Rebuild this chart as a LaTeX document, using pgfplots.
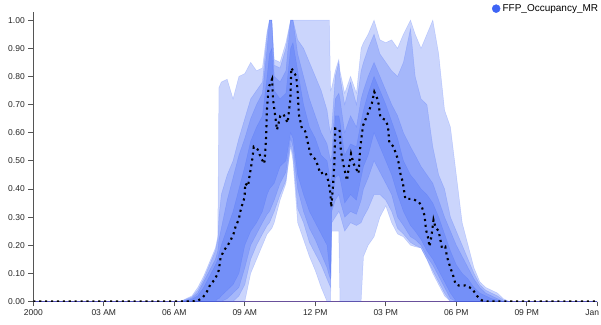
\documentclass[border=0pt]{standalone}
\usepackage{fontspec}
\setmainfont{Liberation Sans}
\usepackage{pgfplots}
\pgfplotsset{compat=1.18}
\usepackage{pgfplotstable}
\usepgfplotslibrary{fillbetween}
\definecolor{ffp}{RGB}{62,100,245}
\definecolor{axpurple}{RGB}{105,80,155}
\definecolor{axgray}{RGB}{85,85,85}
\pgfplotstableread{
t l1 l2 l3 l4 u4 u3 u2 u1
0.0 0 0 0 0 0 0 0 0
6.25 0 0 0 0 0 0 0 0
6.5 0 0 0 0 0.003 0.005 0.008 0.01
6.75 0 0 0 0 0.008 0.012 0.016 0.02
7.0 0 0 0 0 0.02 0.03 0.04 0.05
7.25 0 0 0 0 0.05 0.07 0.08 0.09
7.5 0 0 0 0 0.09 0.11 0.13 0.14
7.75 0 0 0 0 0.13 0.15 0.18 0.19
7.85 0 0 0 0.01 0.15 0.18 0.22 0.23
7.9 0 0 0 0.01 0.17 0.22 0.30 0.76
8.0 0 0 0 0.02 0.20 0.26 0.38 0.78
8.25 0 0 0.01 0.04 0.26 0.36 0.45 0.79
8.5 0 0 0.03 0.06 0.32 0.44 0.50 0.72
8.75 0 0.02 0.05 0.10 0.40 0.52 0.58 0.80
9.0 0 0.06 0.12 0.20 0.48 0.58 0.65 0.81
9.25 0.10 0.15 0.20 0.25 0.57 0.65 0.72 0.85
9.5 0.15 0.20 0.24 0.28 0.62 0.70 0.75 0.82
9.75 0.20 0.24 0.28 0.32 0.66 0.74 0.78 0.83
9.95 0.24 0.27 0.31 0.38 0.80 0.90 0.95 0.96
10.05 0.25 0.28 0.32 0.40 0.88 1.0 1.0 1.0
10.15 0.26 0.30 0.34 0.41 0.90 1.0 1.0 1.0
10.25 0.28 0.32 0.36 0.42 0.75 0.80 0.84 0.86
10.5 0.36 0.38 0.42 0.48 0.72 0.78 0.83 0.85
10.75 0.42 0.43 0.46 0.50 0.74 0.82 0.90 0.92
10.95 0.55 0.56 0.58 0.60 0.90 1.0 1.0 1.0
11.05 0.50 0.52 0.55 0.58 0.92 1.0 1.0 1.0
11.25 0.28 0.33 0.40 0.45 0.82 0.88 0.93 1.0
11.5 0.22 0.28 0.32 0.38 0.70 0.80 0.90 1.0
11.75 0.16 0.21 0.26 0.32 0.62 0.72 0.85 1.0
12.0 0.11 0.17 0.22 0.28 0.58 0.66 0.80 1.0
12.25 0.05 0.13 0.17 0.24 0.52 0.60 0.75 1.0
12.5 0 0.08 0.12 0.20 0.50 0.56 0.68 1.0
12.6 0 0.06 0.09 0.12 0.45 0.52 0.62 1.0
12.65 0 0.05 0.08 0.10 0.42 0.50 0.60 0.75
12.7 0.25 0.28 0.32 0.35 0.45 0.52 0.62 0.76
12.85 0.25 0.30 0.36 0.44 0.66 0.72 0.80 0.82
13.0 0.25 0.32 0.38 0.45 0.66 0.74 0.85 0.86
13.05 0 0.31 0.36 0.44 0.64 0.72 0.80 0.82
13.25 0 0.25 0.30 0.35 0.52 0.60 0.70 0.74
13.5 0 0.28 0.32 0.38 0.56 0.66 0.78 0.80
13.75 0 0.27 0.31 0.36 0.55 0.62 0.70 0.74
13.95 0 0.28 0.36 0.44 0.64 0.72 0.82 0.90
14.05 0.16 0.30 0.40 0.48 0.68 0.75 0.85 0.92
14.25 0.20 0.33 0.44 0.52 0.74 0.80 0.90 0.95
14.5 0.23 0.38 0.50 0.60 0.80 0.85 0.95 1.0
14.75 0.30 0.38 0.46 0.55 0.75 0.80 0.88 0.93
15.0 0.34 0.36 0.42 0.50 0.70 0.75 0.85 0.92
15.25 0.28 0.32 0.38 0.45 0.64 0.70 0.82 0.93
15.5 0.24 0.26 0.30 0.38 0.58 0.66 0.80 0.90
15.75 0.23 0.24 0.27 0.32 0.50 0.60 0.85 0.95
16.05 0.20 0.21 0.23 0.27 0.45 0.55 0.97 1.0
16.25 0.195 0.20 0.22 0.25 0.43 0.52 0.80 0.95
16.5 0.19 0.19 0.20 0.22 0.40 0.48 0.72 0.90
16.75 0.15 0.15 0.16 0.18 0.38 0.45 0.70 0.95
17.0 0.10 0.11 0.13 0.15 0.35 0.42 0.55 1.0
17.25 0.06 0.07 0.09 0.11 0.30 0.36 0.45 0.88
17.5 0.02 0.03 0.05 0.07 0.24 0.30 0.40 0.68
17.75 0 0 0.01 0.03 0.18 0.25 0.30 0.62
18.0 0 0 0 0 0.13 0.20 0.25 0.45
18.25 0 0 0 0 0.10 0.16 0.20 0.28
18.5 0 0 0 0 0.08 0.12 0.15 0.20
18.75 0 0 0 0 0.05 0.08 0.10 0.12
19.0 0 0 0 0 0.03 0.05 0.06 0.07
19.25 0 0 0 0 0.02 0.03 0.04 0.05
19.5 0 0 0 0 0.01 0.02 0.03 0.04
19.75 0 0 0 0 0.005 0.01 0.02 0.03
20.0 0 0 0 0 0 0 0.005 0.01
20.25 0 0 0 0 0 0 0 0
24 0 0 0 0 0 0 0 0
}\bands
\begin{document}
\begin{tikzpicture}
\begin{axis}[
  scale only axis, width=564bp, height=289.8bp,
  xmin=0, xmax=24, ymin=0, ymax=1.03,
  axis x line*=bottom, axis y line*=left, axis line style={-},
  x axis line style={draw=axpurple, line width=1.3bp},
  y axis line style={draw=axgray, line width=1.5bp},
  xtick={0,3,6,9,12,15,18,21,24},
  xticklabels={2000,03 AM,06 AM,09 AM,12 PM,03 PM,06 PM,09 PM,{\makebox[0pt]{\hspace*{-10bp}Jan}}},
  ytick={0,0.1,0.2,0.3,0.4,0.5,0.6,0.7,0.8,0.9,1.0},
  yticklabel style={/pgf/number format/.cd, fixed, fixed zerofill, precision=2, assume math mode=true},
  tick align=outside, major tick length=5bp,
  tick style={axgray, line width=0.8bp},
  ticklabel style={font=\fontsize{8.5bp}{10bp}\selectfont, text=black!85},
  legend style={at={(1.004,1.03)}, anchor=north east, draw=none, fill=none,
    font=\fontsize{10bp}{12bp}\selectfont, inner sep=0pt, nodes={inner sep=1.2bp}},
  legend cell align=left,
]
\coordinate (sw) at (rel axis cs:0,0);
\coordinate (ne) at (rel axis cs:1,1);
\pgfplotsinvokeforeach{1,2,3,4}{
  \addplot[draw=none, name path=U#1, forget plot] table[x=t, y=u#1] {\bands};
  \addplot[draw=none, name path=L#1, forget plot] table[x=t, y=l#1] {\bands};
  \addplot[fill=ffp, fill opacity=0.27, draw=ffp, draw opacity=0.22, line width=0.5bp, forget plot] fill between[of=U#1 and L#1];
}
\addplot[black, line width=2.1bp, dash pattern=on 2.1bp off 3.8bp, forget plot] coordinates {
(0,0) (6.75,0) (7.0,0.003) (7.2,0.013) (7.39,0.035) (7.53,0.06) (7.74,0.08) (7.89,0.11) (7.97,0.155) (8.1,0.18) (8.28,0.20) (8.41,0.22) (8.52,0.24) (8.62,0.27) (8.74,0.29) (8.81,0.32) (8.91,0.35) (8.99,0.37) (9.02,0.42) (9.14,0.41) (9.19,0.44) (9.25,0.47) (9.31,0.50) (9.38,0.55) (9.55,0.54) (9.69,0.51) (9.83,0.49) (9.87,0.53) (9.91,0.59) (9.94,0.68) (10.01,0.76) (10.16,0.79) (10.2,0.72) (10.37,0.61) (10.51,0.66) (10.65,0.665) (10.82,0.635) (10.94,0.72) (10.98,0.83) (11.19,0.80) (11.25,0.745) (11.3,0.665) (11.43,0.615) (11.57,0.605) (11.79,0.525) (12.0,0.505) (12.1,0.485) (12.21,0.455) (12.43,0.46) (12.57,0.425) (12.64,0.385) (12.68,0.335) (12.75,0.405) (12.81,0.49) (12.85,0.615) (13.03,0.61) (13.09,0.535) (13.2,0.485) (13.35,0.43) (13.42,0.475) (13.52,0.525) (13.63,0.49) (13.84,0.455) (13.91,0.545) (14.03,0.625) (14.27,0.675) (14.41,0.705) (14.51,0.745) (14.67,0.715) (14.77,0.655) (14.98,0.645) (15.09,0.625) (15.15,0.565) (15.33,0.55) (15.43,0.525) (15.52,0.505) (15.62,0.455) (15.72,0.425) (15.83,0.365) (16.11,0.365) (16.4,0.355) (16.54,0.335) (16.65,0.305) (16.71,0.255) (16.79,0.23) (16.86,0.195) (16.94,0.23) (17.03,0.29) (17.11,0.265) (17.25,0.25) (17.39,0.19) (17.53,0.195) (17.6,0.16) (17.74,0.122) (17.89,0.086) (17.96,0.063) (18.1,0.057) (18.38,0.057) (18.67,0.046) (18.88,0.02) (19.09,0.004) (19.3,0) (24,0)
};
\addlegendimage{legend image code/.code={\fill[ffp] (4bp,0) circle (4bp); \path (0,0) (9bp,0);}}
\addlegendentry{FFP\_Occupancy\_MR}
\end{axis}
\pgfresetboundingbox
\path[use as bounding box] ([shift={(-33.3bp,-23.5bp)}]sw) rectangle ([shift={(3.7bp,11.7bp)}]ne);
\end{tikzpicture}
\end{document}
